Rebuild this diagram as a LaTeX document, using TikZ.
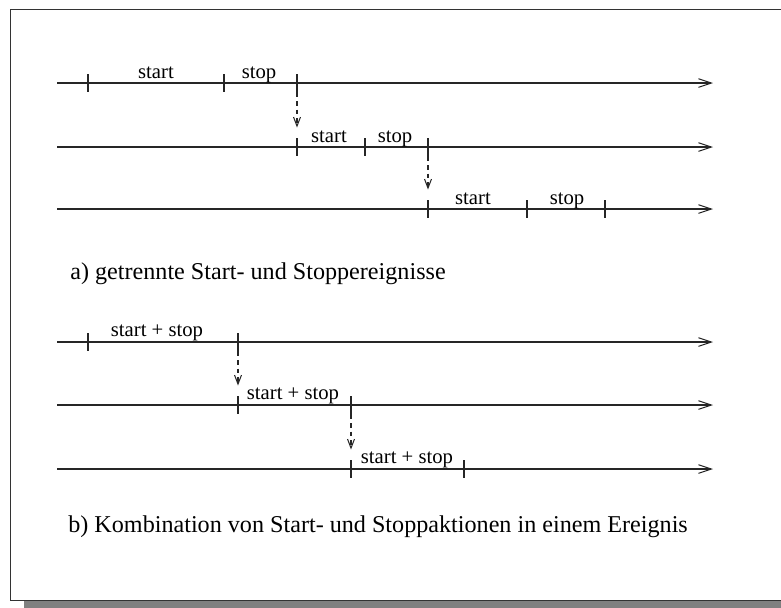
\documentclass[tikz,border=0pt]{standalone}
\usepackage{fontspec}
\setmainfont{Liberation Serif}
\usetikzlibrary{arrows.meta}
\begin{document}
\begin{tikzpicture}[x=0.58pt,y=-0.58pt,
  timeline/.style={line width=0.6pt, draw=black!85, -{Straight Barb[length=7.5pt,width=5pt,line width=0.6pt]}},
  tickmark/.style={draw=black!85, line width=0.6pt, shape=rectangle, minimum width=0pt, minimum height=10.4pt, inner sep=0pt},
  handoff/.style={line width=0.6pt, draw=black!85, dash pattern=on 2.6pt off 2.4pt, shorten >=5.8pt, -{Straight Barb[length=5.2pt,width=4pt,line width=0.6pt]}},
  lbl/.style={anchor=base, inner sep=0pt, font=\fontsize{12}{14}\selectfont},
  caption/.style={anchor=base west, inner sep=0pt, font=\fontsize{14}{17}\selectfont}]
\useasboundingbox (0,0) rectangle (781,607);
\clip (0,0) rectangle (781,607);

% frame with drop shadow
\fill[black!50] (24,601) rectangle (800,612);
\draw[black!80, line width=0.6pt] (10.5,9.5) rectangle (795,600.5);

% ---- a) separate start and stop events ----
\coordinate (r1s) at (57,83);  \coordinate (r1e) at (713,83);
\coordinate (r2s) at (57,147); \coordinate (r2e) at (713,147);
\coordinate (r3s) at (57,209); \coordinate (r3e) at (713,209);
\draw[timeline] (r1s) -- (r1e);
\draw[timeline] (r2s) -- (r2e);
\draw[timeline] (r3s) -- (r3e);

\node[tickmark] (a1) at (88,83) {};
\node[tickmark] (a2) at (224,83) {};
\node[tickmark] (a3) at (297,83) {};
\node[lbl] (la1) at (156,78) {start};
\node[lbl] (la2) at (259,78) {stop};

\node[tickmark] (b1) at (297,147) {};
\node[tickmark] (b2) at (365,147) {};
\node[tickmark] (b3) at (428,147) {};
\node[lbl] (lb1) at (329,142) {start};
\node[lbl] (lb2) at (395,142) {stop};

\node[tickmark] (c1) at (428,209) {};
\node[tickmark] (c2) at (527,209) {};
\node[tickmark] (c3) at (605,209) {};
\node[lbl] (lc1) at (473,204) {start};
\node[lbl] (lc2) at (567,204) {stop};

\draw[handoff] (a3.south) -- (b1.north);
\draw[handoff] (b3.south) -- (c1.north);

\node[caption] (capa) at (70,279) {a) getrennte Start- und Stoppereignisse};

% ---- b) start and stop combined in one event ----
\coordinate (r4s) at (57,342); \coordinate (r4e) at (713,342);
\coordinate (r5s) at (57,405); \coordinate (r5e) at (713,405);
\coordinate (r6s) at (57,469); \coordinate (r6e) at (713,469);
\draw[timeline] (r4s) -- (r4e);
\draw[timeline] (r5s) -- (r5e);
\draw[timeline] (r6s) -- (r6e);

\node[tickmark] (d1) at (88,342) {};
\node[tickmark] (d2) at (238,342) {};
\node[lbl] (ld1) at (157,336) {start + stop};

\node[tickmark] (e1) at (238,405) {};
\node[tickmark] (e2) at (351,405) {};
\node[lbl] (le1) at (293,399) {start + stop};

\node[tickmark] (f1) at (351,469) {};
\node[tickmark] (f2) at (464,469) {};
\node[lbl] (lf1) at (407,463) {start + stop};

\draw[handoff] (d2.south) -- (e1.north);
\draw[handoff] (e2.south) -- (f1.north);

\node[caption] (capb) at (68,532) {b) Kombination von Start- und Stoppaktionen in einem Ereignis};
\end{tikzpicture}
\end{document}
